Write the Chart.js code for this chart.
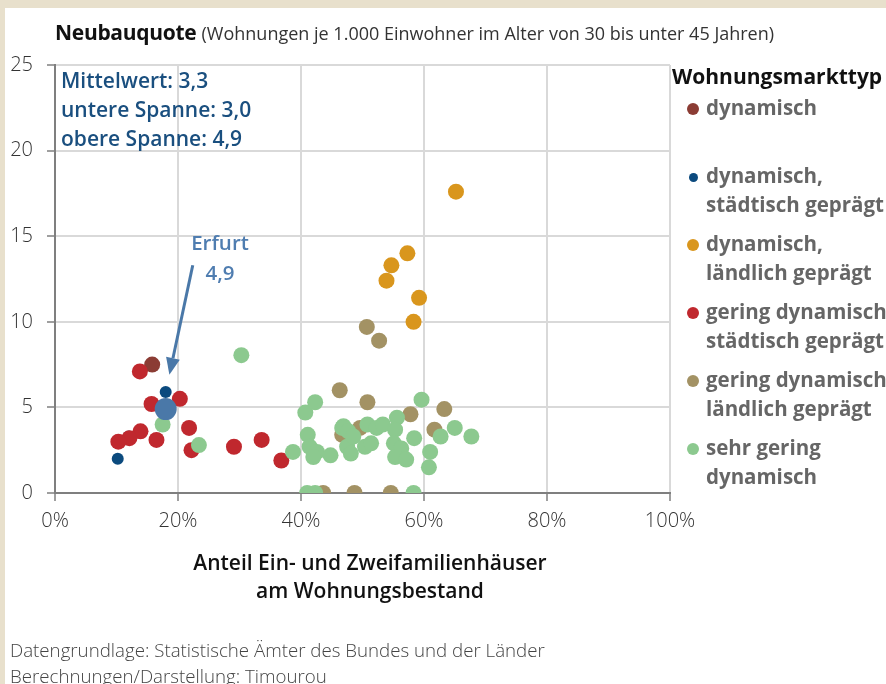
<!DOCTYPE html>
<html>
<head>
<meta charset="utf-8">
<script src="https://cdn.jsdelivr.net/npm/chart.js@4.4.1/dist/chart.umd.min.js"></script>
<style>
  body { margin: 0; background: #e8e0cc; font-family: "Open Sans", sans-serif; }
  #wrap { position: relative; width: 886px; height: 684px; overflow: hidden; }
  #panel { position: absolute; left: 5px; top: 8px; right: 0; bottom: 0; background: #fff; }
  canvas { position: absolute; left: 0; top: 0; }
  .txt { position: absolute; white-space: nowrap; }
  #title { left: 55px; top: 18px; line-height: 28px; font-size: 21px; font-weight: 700; color: #111; letter-spacing: -0.3px; }
  #title span { font-size: 18px; font-weight: 400; color: #333; letter-spacing: 0; }
  #info { left: 61px; top: 66px; line-height: 29px; font-size: 21px; font-weight: 600; color: #1a4f7f; }
  #erfurt { left: 170px; width: 100px; top: 227px; line-height: 30px; font-size: 20.5px; font-weight: 600; color: #4f7db0; text-align: center; }
  #legend { left: 672px; top: 62px; }
  #legend .head { font-size: 21px; font-weight: 700; color: #111; line-height: 28px; height: 31px; }
  #legend .item { position: relative; padding-left: 34px; height: 57px; margin-bottom: 11px; font-size: 20.5px; font-weight: 700; color: #666; line-height: 28.5px; }
  #legend .dot { position: absolute; border-radius: 50%; }
  #xtitle { left: 120px; width: 500px; top: 548px; line-height: 28px; font-size: 21px; font-weight: 600; color: #111; text-align: center; }
  #foot { left: 10px; top: 637px; line-height: 26px; font-size: 18.7px; font-weight: 300; color: #444; }
</style>
</head>
<body>
<div id="wrap">
  <div id="panel"></div>
  <canvas id="chart" width="886" height="684"></canvas>
  <div class="txt" id="title">Neubauquote <span>(Wohnungen je 1.000 Einwohner im Alter von 30 bis unter 45 Jahren)</span></div>
  <div class="txt" id="info">Mittelwert: 3,3<br>untere Spanne: 3,0<br>obere Spanne: 4,9</div>
  <div class="txt" id="erfurt">Erfurt<br>4,9</div>
  <div class="txt" id="legend"></div>
  <div class="txt" id="xtitle">Anteil Ein- und Zweifamilienhäuser<br>am Wohnungsbestand</div>
  <div class="txt" id="foot">Datengrundlage: Statistische Ämter des Bundes und der Länder<br>Berechnungen/Darstellung: Timourou</div>
</div>
<script>
// Werte: [Anteil EFH/ZFH in %, Neubauquote]
const dynamisch = [[15.8, 7.5]];
const dynStaedtisch = [[18.0, 5.9], [10.2, 2.0], [12.0, 3.3]];
const dynLaendlich = [[65.2, 17.6], [57.3, 14.0], [54.7, 13.3], [53.9, 12.4], [59.2, 11.4], [58.3, 10.0]];
const geringStaedtisch = [
  [13.8, 7.1], [15.7, 5.2], [20.3, 5.5], [13.9, 3.6], [12.1, 3.2], [10.3, 3.0],
  [16.5, 3.1], [21.8, 3.8], [22.2, 2.5], [29.1, 2.7], [33.6, 3.1], [36.8, 1.9]
];
const geringLaendlich = [
  [50.7, 9.7], [52.7, 8.9], [46.3, 6.0], [50.8, 5.3], [57.8, 4.6], [63.3, 4.9],
  [61.7, 3.7], [49.6, 3.8], [46.7, 3.4], [43.6, 0], [48.7, 0], [54.6, 0]
];
const sehrGering = [
  [17.5, 4.0], [23.4, 2.8], [30.3, 8.05], [38.7, 2.4],
  [40.7, 4.7], [42.3, 5.3], [59.6, 5.45], [41.1, 3.4], [41.4, 2.7], [42.6, 2.4],
  [42.0, 2.1], [44.8, 2.2], [46.9, 3.9], [46.7, 3.8], [47.7, 3.6], [47.5, 2.7],
  [48.1, 2.3], [48.5, 3.3], [50.4, 2.7], [51.4, 2.9], [50.8, 4.0], [52.3, 3.8],
  [53.3, 4.0], [55.6, 4.4], [55.3, 3.7], [55.1, 2.9], [56.3, 2.6], [55.3, 2.1],
  [57.1, 1.95], [58.4, 3.2], [61.0, 2.4], [60.8, 1.5], [62.7, 3.3], [65.0, 3.8],
  [67.7, 3.3], [41.0, 0], [42.3, 0], [58.3, 0]
];
const erfurt = [[18.0, 4.9]];

const xTicks = [0, 20, 40, 60, 80, 100];
const yTicks = [0, 5, 10, 15, 20, 25];

// Pfeil zur Erfurt-Markierung (Datenkoordinaten)
const arrowFrom = [22.4, 13.3];
const arrowTo = [18.6, 6.9];

const series = [
  { label: 'dynamisch', data: dynamisch, color: '#8b3c34', r: 8, legendR: 6 },
  { label: 'dynamisch, städtisch geprägt', data: dynStaedtisch, color: '#0b4a7e', r: 6, legendR: 4.5 },
  { label: 'dynamisch, ländlich geprägt', data: dynLaendlich, color: '#d9961d', r: 8, legendR: 6 },
  { label: 'gering dynamisch städtisch geprägt', data: geringStaedtisch, color: '#c0282e', r: 8, legendR: 6 },
  { label: 'gering dynamisch ländlich geprägt', data: geringLaendlich, color: '#a39264', r: 8, legendR: 6 },
  { label: 'sehr gering dynamisch', data: sehrGering, color: '#8cc98f', r: 8, legendR: 6 }
];
const legendLines = [
  ['dynamisch', ''],
  ['dynamisch,', 'städtisch geprägt'],
  ['dynamisch,', 'ländlich geprägt'],
  ['gering dynamisch', 'städtisch geprägt'],
  ['gering dynamisch', 'ländlich geprägt'],
  ['sehr gering', 'dynamisch']
];

const toPoints = arr => arr.map(p => ({ x: p[0], y: p[1] }));

const datasets = series.map((s, i) => ({
  label: s.label,
  data: toPoints(s.data),
  backgroundColor: s.color,
  borderWidth: 0,
  pointRadius: s.r,
  pointHoverRadius: s.r,
  order: series.length - i
}));
datasets.push({
  label: 'Erfurt',
  data: toPoints(erfurt),
  backgroundColor: '#4a78a8',
  borderWidth: 0,
  pointRadius: 11,
  pointHoverRadius: 11,
  order: 0
});

// Legende als HTML
const legendEl = document.getElementById('legend');
legendEl.innerHTML = '<div class="head">Wohnungsmarkttyp</div>' + series.map((s, i) => {
  const d = s.legendR * 2;
  return '<div class="item"><span class="dot" style="background:' + s.color +
    ';width:' + d + 'px;height:' + d + 'px;left:' + (21 - s.legendR) + 'px;top:' + (16 - s.legendR) + 'px"></span>' +
    legendLines[i][0] + '<br>' + legendLines[i][1] + '</div>';
}).join('');

const arrowPlugin = {
  id: 'arrow',
  afterDatasetsDraw(chart) {
    const { ctx, scales: { x, y } } = chart;
    const x1 = x.getPixelForValue(arrowFrom[0]), y1 = y.getPixelForValue(arrowFrom[1]);
    const x2 = x.getPixelForValue(arrowTo[0]), y2 = y.getPixelForValue(arrowTo[1]);
    const ang = Math.atan2(y2 - y1, x2 - x1);
    const head = 17, half = 7;
    const bx = x2 - head * Math.cos(ang), by = y2 - head * Math.sin(ang);
    ctx.save();
    ctx.strokeStyle = '#4a78a8';
    ctx.fillStyle = '#4a78a8';
    ctx.lineWidth = 3;
    ctx.beginPath();
    ctx.moveTo(x1, y1);
    ctx.lineTo(bx, by);
    ctx.stroke();
    ctx.beginPath();
    ctx.moveTo(x2, y2);
    ctx.lineTo(bx + half * Math.sin(ang), by - half * Math.cos(ang));
    ctx.lineTo(bx - half * Math.sin(ang), by + half * Math.cos(ang));
    ctx.closePath();
    ctx.fill();
    ctx.restore();
  }
};

new Chart(document.getElementById('chart'), {
  type: 'scatter',
  data: { datasets },
  plugins: [arrowPlugin],
  options: {
    responsive: false,
    animation: false,
    layout: { padding: { left: 5, top: 65, right: 216, bottom: 141 } },
    plugins: {
      legend: { display: false },
      tooltip: { enabled: false }
    },
    scales: {
      x: {
        type: 'linear',
        min: 0,
        max: 100,
        afterBuildTicks: s => { s.ticks = xTicks.map(v => ({ value: v })); },
        afterFit: s => { s.height = 50; },
        grid: { color: '#d9d9d9', lineWidth: 2, tickColor: '#7f7f7f', tickWidth: 1.5, tickLength: 8 },
        border: { color: '#7f7f7f', width: 2 },
        ticks: {
          padding: 8,
          color: '#333',
          font: { family: 'Open Sans', size: 20, weight: 300 },
          callback: v => v + '%'
        }
      },
      y: {
        type: 'linear',
        min: 0,
        max: 25,
        afterBuildTicks: s => { s.ticks = yTicks.map(v => ({ value: v })); },
        afterFit: s => { s.width = 50; },
        grid: { color: '#d9d9d9', lineWidth: 2, tickColor: '#7f7f7f', tickWidth: 1.5, tickLength: 8 },
        border: { color: '#7f7f7f', width: 2 },
        ticks: {
          padding: 14,
          color: '#333',
          font: { family: 'Open Sans', size: 20, weight: 300 }
        }
      }
    }
  }
});
</script>
</body>
</html>
